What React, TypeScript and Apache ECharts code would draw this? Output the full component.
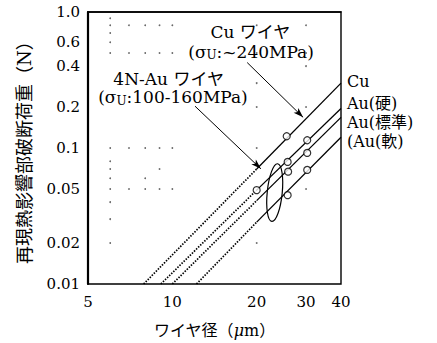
import React, { useEffect, useRef } from "react";
import * as echarts from "echarts";

const L = Math.log10;

// axis ticks
const xTickValues = [5, 10, 20, 30, 40];
const xTickLabels = ["5", "10", "20", "30", "40"];
const yTickValues = [0.01, 0.02, 0.05, 0.1, 0.2, 0.4, 0.6, 1.0];
const yTickLabels = ["0.01", "0.02", "0.05", "0.1", "0.2", "0.4", "0.6", "1.0"];

// fitted lines
const lineNames = ["Cu", "Au(硬)", "Au(標準)", "Au(軟)"];
const lineStartD = [7.9, 9.1, 10.0, 12.2]; // diameter where line meets 0.01 N
const lineStartF = [0.01, 0.01, 0.01, 0.01];
const lineMidD = [20, 20, 20, 20];
const lineMidF = [0.07, 0.049, 0.041, 0.0285]; // load at 20 µm
const lineEndD = [40, 40, 40, 40];
const lineEndF = [0.3, 0.195, 0.168, 0.12]; // load at 40 µm

// measured points
const pointsCu = [[25.6, 0.122]];
const pointsAuHard = [[20, 0.049], [25.8, 0.079], [30.3, 0.114]];
const pointsAuStd = [[25.9, 0.067], [30.3, 0.092]];
const pointsAuSoft = [[25.8, 0.045], [30.3, 0.069]];

// faint grid dots of the original figure
const dotColX6 = [0.02, 0.03, 0.04, 0.05, 0.06, 0.07, 0.08, 0.1, 0.5, 0.6, 0.7, 0.8, 0.9];
const dotRowX = [7, 8, 9, 10];
const dotRowY = [0.05, 0.1, 0.5, 0.8];
const dotExtra = [[9, 0.07], [8, 0.06]];
const dotX20 = [0.8, 0.5, 0.3, 0.2, 0.1, 0.02];
const dotX30 = [0.8, 0.5, 0.4, 0.2, 0.05];

// annotation texts
const annoTexts = ["Cu ワイヤ", "(σ{s|U}:~240MPa)", "4N-Au ワイヤ", "(σ{s|U}:100-160MPa)"];
const annoX = [19.0, 19.1, 9.7, 10.05];
const annoY = [0.714, 0.511, 0.319, 0.236];
const rightLabels = ["Cu", "Au(硬)", "Au(標準)", "(Au(軟)"];
const rightLabelY = [0.308, 0.213, 0.155, 0.111];
// arrows [fromD, fromF, toD, toF]
const arrows = [
  [18.5, 0.425, 29.3, 0.168],
  [12.05, 0.203, 20.7, 0.0703],
];
const ellipseCenter = [23.2, 0.047];

const FONT = '"DejaVu Serif", "Noto Sans CJK JP", serif';

function labelFor(values: number[], labels: string[], v: number) {
  let best = 0;
  let bd = Infinity;
  values.forEach((t, i) => {
    const d = Math.abs(L(t) - v);
    if (d < bd) {
      bd = d;
      best = i;
    }
  });
  return labels[best];
}

export default function App() {
  const ref = useRef<HTMLDivElement>(null);
  useEffect(() => {
    document.body.style.margin = "0";
    if (!ref.current) return;
    const chart = echarts.init(ref.current, undefined, { renderer: "svg" });
    const lp = (p: number[]) => [L(p[0]), L(p[1])];

    const dots: number[][] = [];
    dotColX6.forEach((y) => dots.push([6, y]));
    dotRowX.forEach((x) => dotRowY.forEach((y) => dots.push([x, y])));
    dotExtra.forEach((p) => dots.push(p));
    dotX20.forEach((y) => dots.push([20, y]));
    dotX30.forEach((y) => dots.push([30, y]));

    const series: any[] = [];
    lineNames.forEach((name, i) => {
      series.push({
        type: "line",
        name: name + "-ext",
        data: [lp([lineStartD[i], lineStartF[i]]), lp([lineMidD[i], lineMidF[i]])],
        showSymbol: false,
        silent: true,
        lineStyle: { color: "#000", width: 1.7, type: [1.5, 1.4] },
      });
      series.push({
        type: "line",
        name,
        data: [lp([lineMidD[i], lineMidF[i]]), lp([lineEndD[i], lineEndF[i]])],
        showSymbol: false,
        silent: true,
        lineStyle: { color: "#000", width: 1.3 },
      });
    });
    [pointsCu, pointsAuHard, pointsAuStd, pointsAuSoft].forEach((pts) => {
      series.push({
        type: "scatter",
        data: pts.map(lp),
        symbol: "circle",
        symbolSize: 7,
        silent: true,
        z: 5,
        itemStyle: { color: "#fff", borderColor: "#000", borderWidth: 1.2 },
      });
    });
    series.push({
      type: "scatter",
      data: dots.map(lp),
      symbolSize: 1.8,
      silent: true,
      itemStyle: { color: "#444" },
      markLine: {
        silent: true,
        symbol: ["none", "arrow"],
        symbolSize: [5, 10],
        label: { show: false },
        lineStyle: { color: "#000", width: 1, type: "solid" },
        emphasis: { disabled: true },
        data: arrows.map((a) => [
          { coord: lp([a[0], a[1]]), symbol: "none" },
          { coord: lp([a[2], a[3]]), symbol: "arrow" },
        ]),
      },
    });

    chart.setOption({
      animation: false,
      grid: {
        left: 88,
        right: 96,
        top: 12,
        bottom: 57,
        show: true,
        borderColor: "#000",
        borderWidth: 1.4,
      },
      xAxis: {
        type: "value",
        min: L(5),
        max: L(40),
        name: "{a|ワイヤ径（}{b|μ}{a|m）}",
        nameLocation: "middle",
        nameGap: 38,
        nameTextStyle: {
          rich: {
            a: { fontSize: 16, fontFamily: FONT, color: "#000" },
            b: { fontSize: 16, fontFamily: FONT, fontStyle: "italic", color: "#000" },
          },
        },
        axisLine: { show: true, lineStyle: { color: "#000", width: 1.5 } },
        axisTick: { show: false },
        splitLine: { show: false },
        axisLabel: {
          customValues: xTickValues.map(L),
          formatter: (v: number) => labelFor(xTickValues, xTickLabels, v),
          fontSize: 15,
          fontFamily: FONT,
          color: "#000",
          margin: 10,
        },
      },
      yAxis: {
        type: "value",
        min: -2,
        max: 0,
        name: "再現熱影響部破断荷重（N）",
        nameLocation: "middle",
        nameRotate: 90,
        nameGap: 55,
        nameTextStyle: { fontSize: 18, fontFamily: FONT, color: "#000" },
        axisLine: { show: true, lineStyle: { color: "#000", width: 2.2 } },
        axisTick: { show: false },
        splitLine: { show: false },
        axisLabel: {
          customValues: yTickValues.map(L),
          formatter: (v: number) => labelFor(yTickValues, yTickLabels, v),
          fontSize: 15,
          fontFamily: FONT,
          color: "#000",
          margin: 8,
        },
      },
      series,
    });

    const px = (x: number, y: number) =>
      chart.convertToPixel({ gridIndex: 0 }, [L(x), L(y)]) as number[];

    const graphics: any[] = [];
    annoTexts.forEach((t, i) => {
      const p = px(annoX[i], annoY[i]);
      graphics.push({
        type: "text",
        x: p[0],
        y: p[1],
        silent: true,
        style: {
          text: t,
          fill: "#000",
          fontSize: 17,
          fontFamily: FONT,
          lineHeight: 19,
          align: "center",
          verticalAlign: "middle",
          rich: {
            s: { fontSize: 12, fontFamily: FONT, lineHeight: 13, verticalAlign: "bottom", fill: "#000" },
          },
        },
      });
    });
    rightLabels.forEach((t, i) => {
      const p = px(40, rightLabelY[i]);
      graphics.push({
        type: "text",
        x: p[0] + 6,
        y: p[1],
        silent: true,
        style: {
          text: t,
          fill: "#000",
          fontSize: 16,
          fontFamily: FONT,
          align: "left",
          verticalAlign: "middle",
        },
      });
    });
    const ec = px(ellipseCenter[0], ellipseCenter[1]);
    graphics.push({
      type: "ellipse",
      x: ec[0],
      y: ec[1],
      rotation: -0.1,
      silent: true,
      shape: { cx: 0, cy: 0, rx: 7.5, ry: 29 },
      style: { fill: "none", stroke: "#000", lineWidth: 1.2 },
      z: 10,
    });
    chart.setOption({ graphic: graphics });

    return () => chart.dispose();
  }, []);
  return <div ref={ref} style={{ width: 437, height: 343 }} />;
}
